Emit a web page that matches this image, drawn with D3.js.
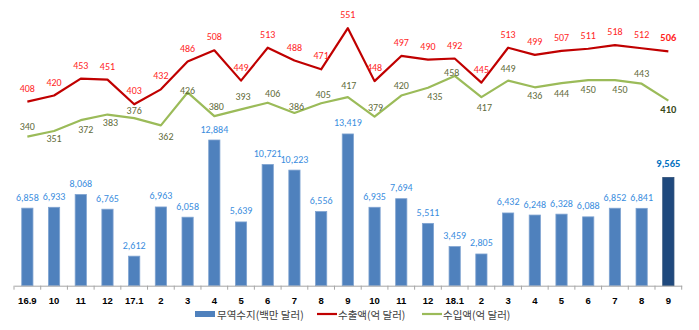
<!DOCTYPE html>
<html>
<head>
<meta charset="utf-8">
<script src="https://cdn.jsdelivr.net/npm/d3@7"></script>
<style>
  html, body { margin: 0; padding: 0; background: #fff; }
  svg { display: block; }
</style>
</head>
<body>
<svg id="chart" width="699" height="330"></svg>
<script>
// ---- Data ----
const categories = ["16.9","10","11","12","17.1","2","3","4","5","6","7","8","9","10","11","12","18.1","2","3","4","5","6","7","8","9"];
const balance = [6858,6933,8068,6765,2612,6963,6058,12884,5639,10721,10223,6556,13419,6935,7694,5511,3459,2805,6432,6248,6328,6088,6852,6841,9565];
const exportsVals = [408,420,453,451,403,432,486,508,449,513,488,471,551,448,497,490,492,445,513,499,507,511,518,512,506];
const importsVals = [340,351,372,383,376,362,426,380,393,406,386,405,417,379,420,435,458,417,449,436,444,450,450,443,410];
const legendLabels = ["무역수지(백만 달러)", "수출액(억 달러)", "수입액(억 달러)"];

// label placement (layout only): offsets of import labels from their points
const importLabelDy = [-10,8,9,8,-8,11,-2,-10,-13,-9,-6,-9,-12,-9,-10,9,-3,10,-12,8,10,9,9,-10,9];
const importLabelDx = [0,0,5,3,0,5,0,2,2,5,2,2,1,1,0,7,-3,3,0,0,0,0,5,0,0];

// ---- Layout ----
const plotLeft = 14, plotRight = 681.7, plotTop = 3, plotBottom = 285.7;
const svg = d3.select("#chart");
const numFont = "Carlito, 'Open Sans', sans-serif";

const x = d3.scaleBand().domain(d3.range(categories.length)).range([plotLeft, plotRight]).padding(0);
const yBar = d3.scaleLinear().domain([0, 25000]).range([plotBottom, plotTop]);
const yLine = d3.scaleLinear().domain([50, 600]).range([plotBottom, plotTop]);
const cx = i => x(i) + x.bandwidth() / 2;
const last = categories.length - 1;

// ---- Bars ----
const bw = x.bandwidth() * 0.42;
svg.append("g").selectAll("rect").data(balance).join("rect")
  .attr("x", (d, i) => cx(i) - bw / 2)
  .attr("y", d => yBar(d))
  .attr("width", bw)
  .attr("height", d => plotBottom - yBar(d))
  .attr("fill", (d, i) => i === last ? "#1F497D" : "#4F81BD")
  .attr("stroke", (d, i) => i === last ? "#2C4D75" : "#7FA3D1")
  .attr("stroke-width", 0.8);

// ---- Axis ----
const axis = d3.axisBottom(x).tickSize(0).tickFormat(i => categories[i]);
const gx = svg.append("g").attr("transform", `translate(0,${plotBottom})`).call(axis);
gx.select(".domain").attr("stroke", "#A6A6A6").attr("stroke-width", 1);
gx.selectAll(".tick text")
  .attr("dy", "0")
  .attr("y", 18)
  .attr("font-family", "'Liberation Sans', Arial, sans-serif")
  .attr("font-weight", "bold")
  .attr("font-size", "9.5px")
  .attr("fill", "#000");
const bounds = d3.range(categories.length + 1).map(i => plotLeft + i * x.step());
gx.append("g").selectAll("line").data(bounds).join("line")
  .attr("x1", d => d).attr("x2", d => d)
  .attr("y1", 0).attr("y2", 4)
  .attr("stroke", "#A6A6A6");

// ---- Lines ----
const lineGen = yS => d3.line().x((d, i) => cx(i)).y(d => yS(d));
svg.append("path").datum(exportsVals)
  .attr("d", lineGen(yLine))
  .attr("fill", "none").attr("stroke", "#C00000").attr("stroke-width", 2.2)
  .attr("stroke-linejoin", "round");
svg.append("path").datum(importsVals)
  .attr("d", lineGen(yLine))
  .attr("fill", "none").attr("stroke", "#9BBB59").attr("stroke-width", 2.2)
  .attr("stroke-linejoin", "round");

// ---- Labels ----
svg.append("g").selectAll("text").data(balance).join("text")
  .attr("x", (d, i) => cx(i))
  .attr("y", (d, i) => yBar(d) - (i === last ? 14 : 11))
  .attr("text-anchor", "middle")
  .attr("dominant-baseline", "central")
  .attr("font-family", numFont)
  .attr("font-size", (d, i) => i === last ? "10.5px" : "10px")
  .attr("font-weight", (d, i) => i === last ? "bold" : "normal")
  .attr("fill", (d, i) => i === last ? "#0070C0" : "#3A8DDE")
  .text(d => d3.format(",")(d));

svg.append("g").selectAll("text").data(exportsVals).join("text")
  .attr("x", (d, i) => cx(i))
  .attr("y", d => yLine(d) - 13.5)
  .attr("text-anchor", "middle")
  .attr("dominant-baseline", "central")
  .attr("font-family", numFont)
  .attr("font-size", (d, i) => i === last ? "10.5px" : "10px")
  .attr("font-weight", (d, i) => i === last ? "bold" : "normal")
  .attr("fill", "#FF1E1E")
  .text(d => d);

svg.append("g").selectAll("text").data(importsVals).join("text")
  .attr("x", (d, i) => cx(i) + importLabelDx[i])
  .attr("y", (d, i) => yLine(d) + importLabelDy[i])
  .attr("text-anchor", "middle")
  .attr("dominant-baseline", "central")
  .attr("font-family", numFont)
  .attr("font-size", (d, i) => i === last ? "10.5px" : "10px")
  .attr("font-weight", (d, i) => i === last ? "bold" : "normal")
  .attr("fill", (d, i) => i === last ? "#3B4A1A" : "#5F6B3A")
  .text(d => d);

// ---- Legend ----
const lg = svg.append("g").attr("font-family", "'Noto Sans CJK KR', sans-serif").attr("font-size", "10.5px").attr("fill", "#404040");
const ly = 314;
lg.append("rect").attr("x", 195).attr("y", ly - 3).attr("width", 20).attr("height", 6).attr("fill", "#4F81BD");
lg.append("text").attr("x", 217).attr("y", ly).attr("dominant-baseline", "central").text(legendLabels[0]);
lg.append("line").attr("x1", 317).attr("x2", 337).attr("y1", ly).attr("y2", ly).attr("stroke", "#C00000").attr("stroke-width", 2.2);
lg.append("text").attr("x", 338).attr("y", ly).attr("dominant-baseline", "central").text(legendLabels[1]);
lg.append("line").attr("x1", 422).attr("x2", 442).attr("y1", ly).attr("y2", ly).attr("stroke", "#9BBB59").attr("stroke-width", 2.2);
lg.append("text").attr("x", 443).attr("y", ly).attr("dominant-baseline", "central").text(legendLabels[2]);
</script>
</body>
</html>
